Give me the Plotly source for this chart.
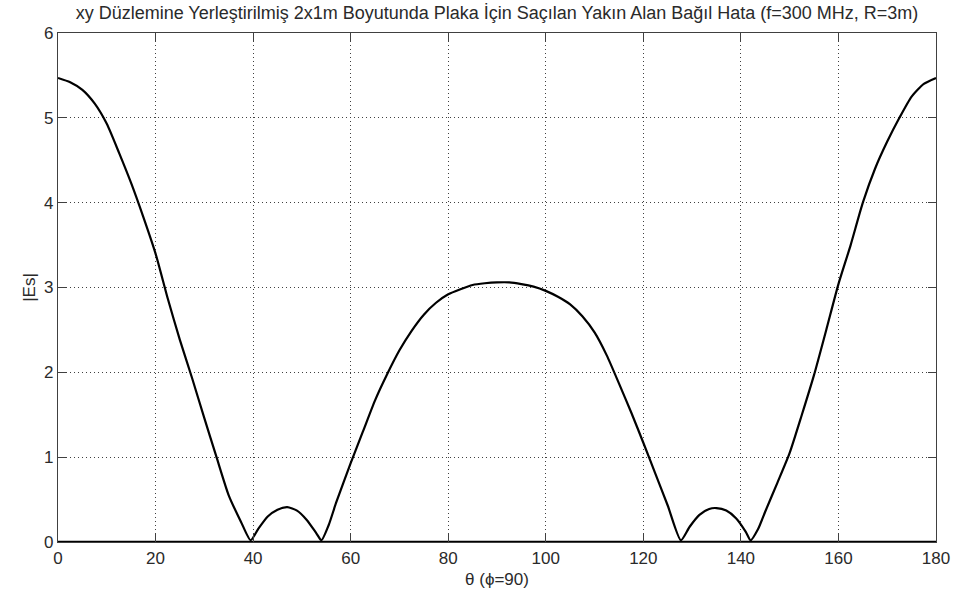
import plotly.graph_objects as go

theta = [0, 2.5, 5, 7.5, 10, 12.5, 15, 17.5, 20, 22.5, 25, 27.5, 30, 32.5, 35, 37.5, 39.5,
         41, 43, 45, 47, 49, 51, 53, 54, 55.5, 57, 60, 62.5, 65, 67.5, 70, 72.5, 75, 77.5,
         80, 82.5, 85, 87.5, 90, 92.5, 95, 97.5, 100, 102.5, 105, 107.5, 110, 112.5, 115,
         117.5, 120, 122.5, 125, 127.7, 129.5, 131.5, 133.5, 135, 137, 139, 141, 142,
         143.5, 145, 147.5, 150, 152.5, 155, 157.5, 160, 162.5, 165, 167.5, 170, 172.5,
         175, 177.5, 180]
es = [5.47, 5.42, 5.33, 5.17, 4.93, 4.59, 4.23, 3.83, 3.40, 2.87, 2.38, 1.93, 1.46, 1.00,
      0.55, 0.24, 0.02,
      0.15, 0.30, 0.38, 0.41, 0.37, 0.26, 0.10, 0.02, 0.20, 0.46, 0.93, 1.30, 1.67, 1.98,
      2.26, 2.49, 2.68, 2.82,
      2.92, 2.98, 3.03, 3.05, 3.06, 3.06, 3.04, 3.01, 2.96, 2.89, 2.80, 2.66, 2.47, 2.20,
      1.87, 1.53, 1.17, 0.80, 0.43, 0.02, 0.18, 0.32, 0.39, 0.40, 0.37, 0.28, 0.12, 0.02,
      0.15, 0.36, 0.70, 1.05, 1.50, 1.97, 2.50, 3.04, 3.50, 4.00, 4.40, 4.72, 5.00,
      5.25, 5.40, 5.47]
reference = [0.0 for _ in theta]

x_ticks = [0, 20, 40, 60, 80, 100, 120, 140, 160, 180]
y_ticks = [0, 1, 2, 3, 4, 5, 6]

title_text = "xy Düzlemine Yerleştirilmiş 2x1m Boyutunda Plaka İçin Saçılan Yakın Alan Bağıl Hata (f=300 MHz, R=3m)"
x_label = "θ (ϕ=90)"
y_label = "|Es|"

FONT = "Liberation Sans"
TXT = "#2a2a2a"

fig = go.Figure()
fig.add_trace(go.Scatter(x=theta, y=reference, mode="lines",
                         line=dict(color="black", width=2.5), showlegend=False))
fig.add_trace(go.Scatter(x=theta, y=es, mode="lines",
                         line=dict(color="black", width=2.2, shape="spline", smoothing=0.6),
                         showlegend=False))

axis_common = dict(
    showgrid=True, gridcolor="#404040", griddash="1px,3px", gridwidth=1,
    showline=True, linecolor="#404040", linewidth=1.2, mirror="ticks",
    ticks="inside", ticklen=8, tickwidth=1, tickcolor="#404040",
    zeroline=False,
    tickfont=dict(family=FONT, size=17, color=TXT),
)

fig.update_xaxes(range=[0, 180], tickvals=x_ticks, ticktext=[str(v) for v in x_ticks],
                 title=dict(text=x_label, font=dict(family=FONT, size=17, color=TXT), standoff=6),
                 **axis_common)
fig.update_yaxes(range=[0, 6], tickvals=y_ticks, ticktext=[str(v) for v in y_ticks],
                 title=dict(text=y_label, font=dict(family=FONT, size=17, color=TXT), standoff=4),
                 **axis_common)

fig.update_layout(
    width=962, height=601,
    margin=dict(l=58, r=26, t=33, b=59),
    paper_bgcolor="white", plot_bgcolor="white",
    title=dict(text=title_text, x=0.5, xref="paper", xanchor="center",
               y=1 - 13 / 601, yref="container", yanchor="middle",
               font=dict(family=FONT, size=18, color=TXT)),
)

fig.write_html("out.html")
